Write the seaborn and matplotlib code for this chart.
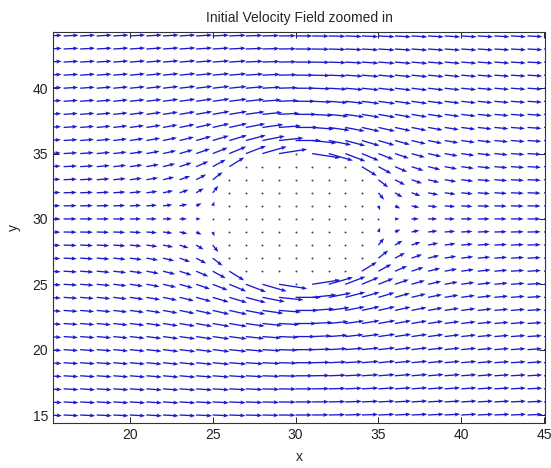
import numpy as np
import pandas as pd
import matplotlib
matplotlib.use("Agg")
import matplotlib.pyplot as plt
import seaborn as sns

# Sample nodes (unit spacing) covering the zoomed window
x_nodes = np.arange(14, 47)
y_nodes = np.arange(13, 46)

# Cylinder obstacle and free-stream speed of the initial potential flow
cyl_center = (30.0, 30.0)
cyl_radius = 5.0
u_inf = 0.9

x_ticks = [20, 25, 30, 35, 40, 45]
y_ticks = [15, 20, 25, 30, 35, 40]

# Potential flow around a cylinder; velocity is zero inside the body
X, Y = np.meshgrid(x_nodes, y_nodes)
dx = X - cyl_center[0]
dy = Y - cyl_center[1]
r2 = dx**2 + dy**2
inside = r2 <= cyl_radius**2
r4 = np.where(inside, 1.0, r2**2)
U = u_inf * (1.0 - cyl_radius**2 * (dx**2 - dy**2) / r4)
V = -u_inf * 2.0 * cyl_radius**2 * dx * dy / r4
U[inside] = 0.0
V[inside] = 0.0

moving = ~inside
rest = pd.DataFrame({"x": X[inside], "y": Y[inside]})

sns.set_style("ticks")
plt.rcParams["font.family"] = ["Liberation Sans", "DejaVu Sans"]
plt.rcParams["font.size"] = 10

fig = plt.figure(figsize=(5.51, 4.68), dpi=100)
ax = fig.add_axes([0.0962, 0.0962, 0.8928, 0.8354])

ax.quiver(X[moving], Y[moving], U[moving], V[moving],
          angles="xy", scale_units="xy", scale=1, pivot="tail",
          color="#1a1ad0", width=0.0027, headwidth=3.0, headlength=4.0,
          headaxislength=3.6, minlength=0)
sns.scatterplot(data=rest, x="x", y="y", s=2.0, color="#404070",
                linewidth=0, ax=ax, legend=False)

ax.set_xlim(15.36, 45.05)
ax.set_ylim(14.39, 44.3)
ax.set_xticks(x_ticks)
ax.set_yticks(y_ticks)
ax.tick_params(direction="in", top=True, right=True, length=4,
               width=0.7, labelsize=10, colors="#222222")
for sp in ax.spines.values():
    sp.set_visible(True)
    sp.set_color("#333333")
    sp.set_linewidth(0.8)

ax.set_title("Initial Velocity Field zoomed in", fontsize=10, pad=7)
ax.set_xlabel("x", fontsize=10, labelpad=6)
ax.set_ylabel("y", fontsize=10, labelpad=8)
ax.set_facecolor("white")
fig.patch.set_facecolor("white")

fig.savefig("out.png", dpi=100)
